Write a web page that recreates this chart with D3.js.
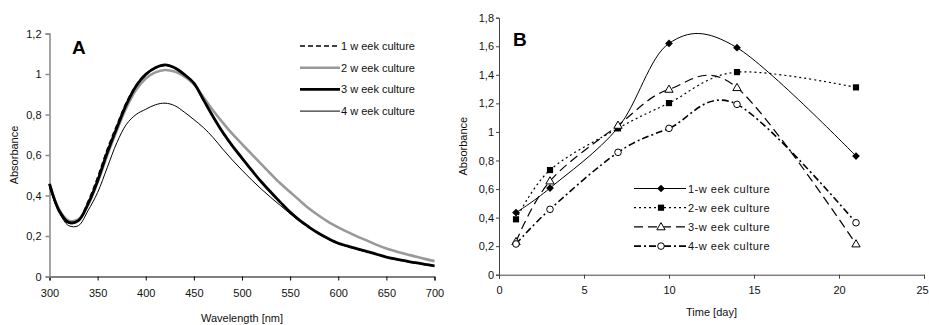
<!DOCTYPE html>
<html>
<head>
<meta charset="utf-8">
<script src="https://cdn.jsdelivr.net/npm/d3@7"></script>
<style>
body { margin: 0; background: #fff; }
svg { display: block; font-family: "Liberation Sans", Arial, sans-serif; }
.tick text { font-size: 11px; fill: #111; }
</style>
</head>
<body>
<div id="chart"></div>
<script>
// Data, panel A: absorbance spectra
var wavelengths = [300, 310, 320, 330, 340, 350, 360, 370, 380, 390, 400, 410, 420, 430, 440, 450,
    460, 470, 480, 490, 500, 510, 520, 530, 540, 550, 560, 570, 580, 590, 600,
    610, 620, 630, 640, 650, 660, 670, 680, 690, 700];
var absWeek1 = [0.455, 0.322, 0.266, 0.28, 0.37, 0.49, 0.628, 0.748, 0.86, 0.945, 1.0, 1.03, 1.042, 1.03, 0.997, 0.953,
    0.87, 0.787, 0.71, 0.643, 0.583, 0.523, 0.466, 0.414, 0.364, 0.316, 0.275, 0.241, 0.211, 0.185, 0.163,
    0.149, 0.135, 0.122, 0.109, 0.095, 0.085, 0.076, 0.067, 0.059, 0.052];
var absWeek2 = [0.46, 0.33, 0.275, 0.282, 0.352, 0.465, 0.598, 0.722, 0.835, 0.922, 0.978, 1.008, 1.02, 1.012, 0.988, 0.95,
    0.885, 0.82, 0.76, 0.704, 0.654, 0.604, 0.555, 0.506, 0.459, 0.417, 0.375, 0.335, 0.3, 0.269, 0.243,
    0.219, 0.197, 0.177, 0.156, 0.138, 0.124, 0.111, 0.099, 0.087, 0.076];
var absWeek3 = [0.457, 0.325, 0.267, 0.276, 0.358, 0.473, 0.612, 0.735, 0.851, 0.941, 0.998, 1.031, 1.045, 1.031, 0.998, 0.955,
    0.872, 0.789, 0.712, 0.645, 0.585, 0.525, 0.468, 0.416, 0.366, 0.318, 0.277, 0.243, 0.212, 0.186, 0.164,
    0.150, 0.136, 0.123, 0.110, 0.096, 0.086, 0.077, 0.068, 0.060, 0.053];
var absWeek4 = [0.44, 0.317, 0.251, 0.251, 0.325, 0.415, 0.538, 0.661, 0.752, 0.80, 0.826, 0.848, 0.856, 0.844, 0.812, 0.775,
    0.735, 0.686, 0.629, 0.575, 0.525, 0.477, 0.432, 0.39, 0.35, 0.31, 0.274, 0.241, 0.21, 0.184, 0.162,
    0.148, 0.134, 0.121, 0.108, 0.095, 0.085, 0.076, 0.067, 0.059, 0.052];
var spectraLabels = ["1 w eek culture", "2 w eek culture", "3 w eek culture", "4 w eek culture"];
var xTicksA = [300, 350, 400, 450, 500, 550, 600, 650, 700];
var yTicksA = [0, 0.2, 0.4, 0.6, 0.8, 1, 1.2];

// Data, panel B: absorbance over time
var days = [1, 3, 7, 10, 14, 21];
var timeWeek1 = [0.435, 0.607, 1.03, 1.62, 1.59, 0.831];
var timeWeek2 = [0.388, 0.733, 1.025, 1.202, 1.419, 1.312];
var timeWeek3 = [0.231, 0.656, 1.046, 1.298, 1.31, 0.215];
var timeWeek4 = [0.215, 0.458, 0.857, 1.025, 1.193, 0.364];
var timeLabels = ["1-w eek culture", "2-w eek culture", "3-w eek culture", "4-w eek culture"];
var xTicksB = [0, 5, 10, 15, 20, 25];
var yTicksB = [0, 0.2, 0.4, 0.6, 0.8, 1, 1.2, 1.4, 1.6, 1.8];

var width = 929, height = 325;

var svg = d3.select("#chart")
    .append("svg")
    .attr("width", width)
    .attr("height", height);

// decimal comma like the original
function comma(d) {
    return d === Math.round(d) ? String(d) : d.toFixed(1).replace(".", ",");
}

// ---------- Panel A ----------
var xA = d3.scaleLinear().domain([300, 700]).range([49.5, 434.5]);
var yA = d3.scaleLinear().domain([0, 1.2]).range([276.5, 33.5]);

var gA = svg.append("g");

var xAxisA = gA.append("g")
    .attr("transform", "translate(0," + yA(0) + ")")
    .call(d3.axisBottom(xA).tickValues(xTicksA).tickFormat(String).tickSizeOuter(0).tickSize(4).tickPadding(9));
xAxisA.selectAll("line, path").attr("stroke", "#000");

var yAxisA = gA.append("g")
    .attr("transform", "translate(" + xA(300) + ",0)")
    .call(d3.axisLeft(yA).tickValues(yTicksA).tickFormat(comma).tickSizeOuter(0).tickSize(4).tickPadding(4));
yAxisA.selectAll("line, path").attr("stroke", "#888").attr("stroke-width", 1.5);

var specStyles = [
    { color: "#000", width: 1.6, dash: "5,3" },
    { color: "#999", width: 2.6, dash: null },
    { color: "#000", width: 2.8, dash: null },
    { color: "#000", width: 1, dash: null }
];
var specSeries = [absWeek1, absWeek2, absWeek3, absWeek4];

var lineA = d3.line()
    .x(function(d, i) { return xA(wavelengths[i]); })
    .y(function(d) { return yA(d); })
    .curve(d3.curveCatmullRom);

specSeries.forEach(function(s, i) {
    var st = specStyles[i];
    gA.append("path")
        .datum(s)
        .attr("fill", "none")
        .attr("stroke", st.color)
        .attr("stroke-width", st.width)
        .attr("stroke-dasharray", st.dash)
        .attr("d", lineA);
});

// legend A
var legA = gA.append("g").attr("class", "legend");
spectraLabels.forEach(function(label, i) {
    var st = specStyles[i];
    var ly = 46 + i * 21.7;
    legA.append("line")
        .attr("x1", 300).attr("x2", 340)
        .attr("y1", ly).attr("y2", ly)
        .attr("stroke", st.color)
        .attr("stroke-width", st.width)
        .attr("stroke-dasharray", st.dash);
    legA.append("text")
        .attr("x", 341).attr("y", ly + 4)
        .attr("font-size", "11px")
        .attr("fill", "#111")
        .text(label);
});

gA.append("text")
    .attr("x", 72).attr("y", 53.5)
    .attr("font-size", "19px").attr("font-weight", "bold")
    .text("A");

gA.append("text")
    .attr("transform", "translate(18," + (yA(0.6)) + ") rotate(-90)")
    .attr("text-anchor", "middle")
    .attr("font-size", "11px")
    .attr("fill", "#111")
    .text("Absorbance");

gA.append("text")
    .attr("x", (xA(300) + xA(700)) / 2).attr("y", 322)
    .attr("text-anchor", "middle")
    .attr("font-size", "11px")
    .attr("fill", "#111")
    .text("Wavelength [nm]");

// ---------- Panel B ----------
var xB = d3.scaleLinear().domain([0, 25]).range([499, 924]);
var yB = d3.scaleLinear().domain([0, 1.8]).range([274.7, 17.7]);

var gB = svg.append("g");

var xAxisB = gB.append("g")
    .attr("transform", "translate(0," + yB(0) + ")")
    .call(d3.axisBottom(xB).tickValues(xTicksB).tickFormat(String).tickSizeOuter(0).tickSize(4).tickPadding(8));
xAxisB.selectAll("line, path").attr("stroke", "#444");
// last label sits right at the window edge
xAxisB.selectAll(".tick text").filter(function(d) { return d === 25; }).attr("dx", "-2");

var yAxisB = gB.append("g")
    .attr("transform", "translate(" + xB(0) + ",0)")
    .call(d3.axisLeft(yB).tickValues(yTicksB).tickFormat(comma).tickSizeOuter(0).tickSize(3).tickPadding(2));
yAxisB.selectAll("line, path").attr("stroke", "#444");

var timeStyles = [
    { dash: null, width: 1, marker: "diamond" },
    { dash: "2,3", width: 1.2, marker: "square" },
    { dash: "9,5", width: 1.2, marker: "triangle" },
    { dash: "7,3,2,3", width: 1.6, marker: "circle" }
];
var timeSeries = [timeWeek1, timeWeek2, timeWeek3, timeWeek4];

var lineB = d3.line()
    .x(function(d, i) { return xB(days[i]); })
    .y(function(d) { return yB(d); })
    .curve(d3.curveCardinal.tension(0));

function drawMarker(g, type, x, y) {
    if (type === "diamond") {
        g.append("path")
            .attr("d", d3.symbol().type(d3.symbolSquare).size(30)())
            .attr("transform", "translate(" + x + "," + y + ") rotate(45)")
            .attr("fill", "#000");
    } else if (type === "square") {
        g.append("path")
            .attr("d", d3.symbol().type(d3.symbolSquare).size(38)())
            .attr("transform", "translate(" + x + "," + y + ")")
            .attr("fill", "#000");
    } else if (type === "triangle") {
        g.append("path")
            .attr("d", d3.symbol().type(d3.symbolTriangle).size(30)())
            .attr("transform", "translate(" + x + "," + (y + 0.5) + ")")
            .attr("fill", "#fff").attr("stroke", "#000").attr("stroke-width", 1);
    } else {
        g.append("circle")
            .attr("cx", x).attr("cy", y).attr("r", 3.3)
            .attr("fill", "#fff").attr("stroke", "#000").attr("stroke-width", 1);
    }
}

timeSeries.forEach(function(s, i) {
    var st = timeStyles[i];
    gB.append("path")
        .datum(s)
        .attr("fill", "none")
        .attr("stroke", "#000")
        .attr("stroke-width", st.width)
        .attr("stroke-dasharray", st.dash)
        .attr("d", lineB);
});
timeSeries.forEach(function(s, i) {
    var st = timeStyles[i];
    s.forEach(function(v, j) {
        drawMarker(gB, st.marker, xB(days[j]), yB(v));
    });
});

// legend B
var legB = gB.append("g").attr("class", "legend");
timeLabels.forEach(function(label, i) {
    var st = timeStyles[i];
    var ly = 188.5 + i * 19.2;
    legB.append("line")
        .attr("x1", 634).attr("x2", 686)
        .attr("y1", ly).attr("y2", ly)
        .attr("stroke", "#000")
        .attr("stroke-width", st.width)
        .attr("stroke-dasharray", st.dash);
    drawMarker(legB, st.marker, 661, ly);
    legB.append("text")
        .attr("x", 688).attr("y", ly + 4)
        .attr("font-size", "11px")
        .attr("letter-spacing", "0.5px")
        .attr("fill", "#111")
        .text(label);
});

gB.append("text")
    .attr("x", 513).attr("y", 45.5)
    .attr("font-size", "19px").attr("font-weight", "bold")
    .text("B");

gB.append("text")
    .attr("transform", "translate(467," + (yB(0.9)) + ") rotate(-90)")
    .attr("text-anchor", "middle")
    .attr("font-size", "11px")
    .attr("fill", "#111")
    .text("Absorbance");

gB.append("text")
    .attr("x", (xB(0) + xB(25)) / 2).attr("y", 316)
    .attr("text-anchor", "middle")
    .attr("font-size", "11px")
    .attr("fill", "#111")
    .text("Time [day]");
</script>
</body>
</html>
